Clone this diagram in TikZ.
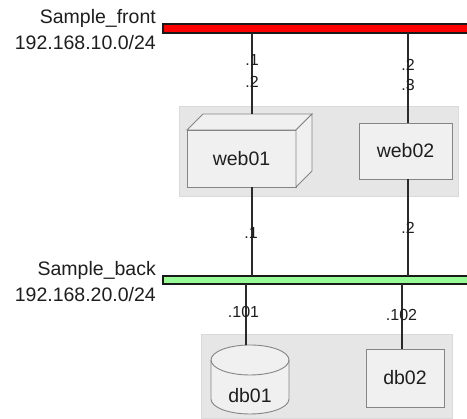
\documentclass[tikz,border=0pt]{standalone}
\usepackage{fontspec}
\setmainfont{Liberation Sans}
\definecolor{groupfill}{HTML}{E6E6E6}
\definecolor{groupline}{HTML}{DADADA}
\definecolor{boxfill}{HTML}{F0F0F0}
\definecolor{boxline}{HTML}{858585}
\definecolor{txt}{HTML}{1E1E1E}
\definecolor{linkc}{HTML}{2A2A2A}
\definecolor{backgreen}{HTML}{98FB98}
\begin{document}
\begin{tikzpicture}[x=1pt,y=1pt,
  netbar/.style={draw=black!90, line width=1.1pt, inner sep=0pt, outer sep=0pt, minimum width=312pt, anchor=north west},
  netlabel/.style={font=\fontsize{19.5}{22}\selectfont, text=txt, inner sep=0pt, anchor=base east},
  hostbox/.style={draw=boxline, fill=boxfill, line width=0.9pt, inner sep=0pt, outer sep=0pt, font=\fontsize{19.5}{22}\selectfont, text=txt, anchor=north west},
  shapeline/.style={draw=boxline, fill=boxfill, line width=0.9pt},
  hosttext/.style={font=\fontsize{19.5}{22}\selectfont, text=txt, inner sep=0pt},
  addr/.style={font=\fontsize{16}{18}\selectfont, text=txt, inner sep=0pt},
  link/.style={draw=linkc, line width=1.1pt},
  group/.style={fill=groupfill, draw=groupline, line width=0.8pt}
]
\useasboundingbox (0,0) rectangle (467,-419);
\clip (0,0) rectangle (467,-419);
\fill[white] (0,0) rectangle (467,-419);

% groups
\path[group] (179,-106) rectangle (458,-196);
\path[group] (201,-334) rectangle (452,-418);

% networks
\node[netbar, fill=red, minimum height=9pt] (front) at (163,-24) {};
\node[netbar, fill=backgreen, minimum height=8pt] (back) at (163,-276) {};
\node[netlabel] (frontname) at (156,-24) {Sample\_front};
\node[netlabel] (frontip) at (156,-50) {192.168.10.0/24};
\node[netlabel] (backname) at (156,-276) {Sample\_back};
\node[netlabel] (backip) at (156,-302) {192.168.20.0/24};

% web01 (3D box)
\node[hostbox, minimum width=109pt, minimum height=57pt] (web01) at (187,-130) {web01};
\path[shapeline] (web01.north west) -- ++(16,16) -- ++(109,0) -- (web01.north east) -- cycle;
\path[shapeline] (web01.north east) -- ++(16,16) -- ++(0,-57) -- (web01.south east) -- cycle;
\coordinate (web01port) at (252,-114);
\coordinate (web01low) at (252,-187);

% web02
\node[hostbox, minimum width=93pt, minimum height=56pt] (web02) at (359,-123) {web02};
\coordinate (web02port) at (408,-123);
\coordinate (web02low) at (408,-179);

% db01 (cylinder)
\path[shapeline] (211,-360) -- (211,-399) arc[start angle=180, end angle=360, x radius=39pt, y radius=15pt]
  -- (289,-360) arc[start angle=0, end angle=180, x radius=39pt, y radius=15pt] -- cycle;
\draw[boxline, line width=0.9pt] (211,-360) arc[start angle=180, end angle=360, x radius=39pt, y radius=15pt];
\node[hosttext] (db01) at (250,-396) {db01};
\coordinate (db01port) at (246,-345);

% db02
\node[hostbox, minimum width=78pt, minimum height=58pt] (db02) at (366,-349) {db02};
\coordinate (db02port) at (402,-349);

% links
\draw[link] (front.south -| web01port) -- (web01port);
\draw[link] (front.south -| web02port) -- (web02port);
\draw[link] (web01low) -- (back.north -| web01low);
\draw[link] (web02low) -- (back.north -| web02low);
\draw[link] (back.south -| db01port) -- (db01port);
\draw[link] (back.south -| db02port) -- (db02port);

% addresses
\node[addr] (a1) at (252,-60) {.1};
\node[addr] (a2) at (252,-82) {.2};
\node[addr] (a3) at (408,-65) {.2};
\node[addr] (a4) at (408,-85) {.3};
\node[addr] (a5) at (251,-233) {.1};
\node[addr] (a6) at (408,-228) {.2};
\node[addr] (a7) at (243.5,-312) {.101};
\node[addr] (a8) at (401.5,-315) {.102};
\end{tikzpicture}
\end{document}
